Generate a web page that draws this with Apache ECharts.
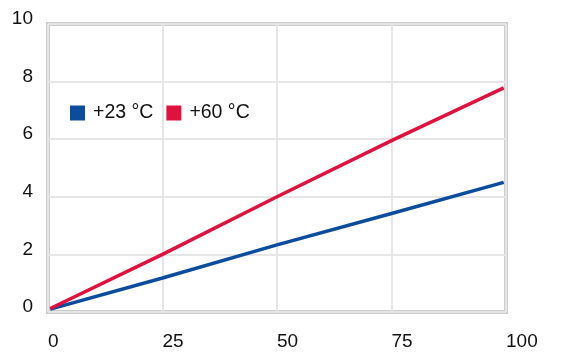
<!DOCTYPE html>
<html><head><meta charset="utf-8">
<script src="https://cdn.jsdelivr.net/npm/echarts@6/dist/echarts.min.js"></script>
<style>html,body{margin:0;padding:0;background:#fff}#c{width:570px;height:358px}</style>
</head><body><div id="c"></div>
<script>
const seriesNames = ['+23 °C', '+60 °C'];
const xValues = [0.5, 25, 50, 75, 99.5];
const blueValues = [0.1, 1.18, 2.33, 3.42, 4.5];
const redValues = [0.12, 2.0, 4.0, 5.95, 7.78];
const xTicks = [0, 25, 50, 75, 100];
const yTicks = [0, 2, 4, 6, 8, 10];
const colors = ['#0b4c9c', '#e0103f'];

const font = 'Liberation Sans, Arial, sans-serif';
const chart = echarts.init(document.getElementById('c'));
chart.setOption({
  animation: false,
  backgroundColor: '#fff',
  grid: { left: 48, right: 64, top: 24, bottom: 46, show: true, borderColor: '#cccccc', borderWidth: 4, backgroundColor: 'transparent' },
  legend: {
    left: 70, top: 103, padding: 0, itemWidth: 15, itemHeight: 15, itemGap: 13, icon: 'rect',
    data: seriesNames,
    textStyle: { fontFamily: font, fontSize: 19.5, color: '#111', padding: [0, 0, 0, 3] }
  },
  xAxis: {
    type: 'value', min: xTicks[0], max: xTicks[xTicks.length - 1], interval: 25,
    axisLine: { show: false }, axisTick: { show: false },
    splitLine: { show: true, lineStyle: { color: '#e6e6e6', width: 2 } },
    axisLabel: { fontFamily: font, fontSize: 19, color: '#111', align: 'left', margin: 20 }
  },
  yAxis: {
    type: 'value', min: yTicks[0], max: yTicks[yTicks.length - 1], interval: 2,
    axisLine: { show: false }, axisTick: { show: false },
    splitLine: { show: true, lineStyle: { color: '#e6e6e6', width: 2 } },
    axisLabel: { fontFamily: font, fontSize: 19, color: '#111', margin: 15, verticalAlign: 'bottom', lineHeight: 10 }
  },
  series: [
    { name: seriesNames[0], type: 'line', data: xValues.map((x, i) => [x, blueValues[i]]), symbol: 'none', lineStyle: { color: colors[0], width: 3.5 }, itemStyle: { color: colors[0] } },
    { name: seriesNames[1], type: 'line', data: xValues.map((x, i) => [x, redValues[i]]), symbol: 'none', lineStyle: { color: colors[1], width: 3.5 }, itemStyle: { color: colors[1] } }
  ]
});
</script></body></html>
